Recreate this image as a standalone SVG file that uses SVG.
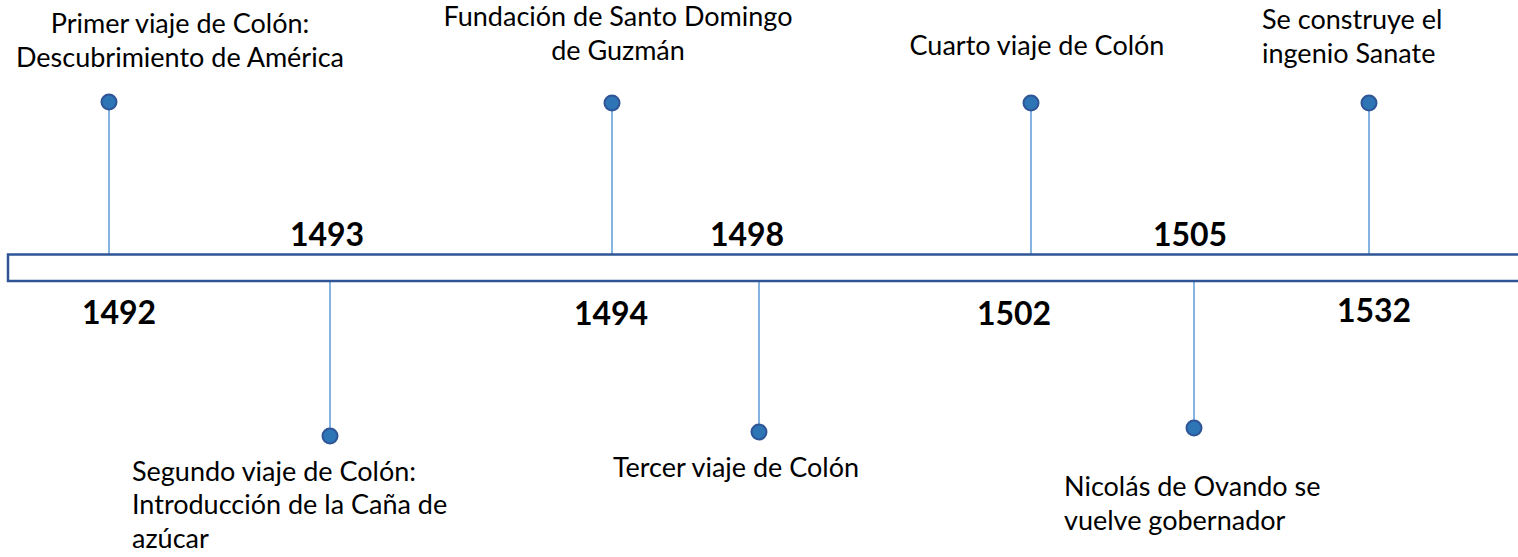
<svg xmlns="http://www.w3.org/2000/svg" width="1518" height="557" viewBox="0 0 1518 557">
<style>
.t{font-family:Lato,"Liberation Sans",sans-serif;font-size:27px;fill:#000}
.y{font-family:Lato,"Liberation Sans",sans-serif;font-size:32px;font-weight:bold;fill:#000;text-anchor:middle}
.c{stroke:#5B9BD5;stroke-width:1.5;fill:none}
.d{fill:#2E75B6;stroke:#2F5597;stroke-width:2}
.m{text-anchor:middle}
</style>
<rect width="1518" height="557" fill="#fff"/>
<g id="connectors">
<line class="c" x1="109" y1="102" x2="109" y2="254"/>
<line class="c" x1="612" y1="103" x2="612" y2="254"/>
<line class="c" x1="1031" y1="103" x2="1031" y2="254"/>
<line class="c" x1="1369" y1="103" x2="1369" y2="254"/>
<line class="c" x1="330" y1="281" x2="330" y2="436"/>
<line class="c" x1="759" y1="281" x2="759" y2="432"/>
<line class="c" x1="1194" y1="281" x2="1194" y2="428"/>
</g>
<g id="bar"><rect x="8" y="254.5" width="1530" height="26.5" fill="#fff" stroke="#2F5597" stroke-width="2.5"/></g>
<g id="e1492"><circle class="d" cx="109" cy="102" r="7.5"/>
<text class="t m" x="180" y="33">Primer viaje de Colón:</text>
<text class="t m" x="180" y="67">Descubrimiento de América</text>
<text class="y" x="119" y="324">1492</text></g>
<g id="e1493"><circle class="d" cx="330" cy="436" r="7.5"/>
<text class="t" x="132" y="481">Segundo viaje de Colón:</text>
<text class="t" x="132" y="514">Introducción de la Caña de</text>
<text class="t" x="132" y="548">azúcar</text>
<text class="y" x="327" y="246">1493</text></g>
<g id="e1494"><circle class="d" cx="612" cy="103" r="7.5"/>
<text class="t m" x="618" y="26">Fundación de Santo Domingo</text>
<text class="t m" x="618" y="60">de Guzmán</text>
<text class="y" x="611" y="325">1494</text></g>
<g id="e1498"><circle class="d" cx="759" cy="432" r="7.5"/>
<text class="t m" x="736" y="477">Tercer viaje de Colón</text>
<text class="y" x="747" y="246">1498</text></g>
<g id="e1502"><circle class="d" cx="1031" cy="103" r="7.5"/>
<text class="t m" x="1037" y="55">Cuarto viaje de Colón</text>
<text class="y" x="1014" y="325">1502</text></g>
<g id="e1505"><circle class="d" cx="1194" cy="428" r="7.5"/>
<text class="t" x="1064" y="496">Nicolás de Ovando se</text>
<text class="t" x="1064" y="530">vuelve gobernador</text>
<text class="y" x="1190" y="246">1505</text></g>
<g id="e1532"><circle class="d" cx="1369" cy="103" r="7.5"/>
<text class="t" x="1262" y="29">Se construye el</text>
<text class="t" x="1262" y="63">ingenio Sanate</text>
<text class="y" x="1374" y="322">1532</text></g>
</svg>
